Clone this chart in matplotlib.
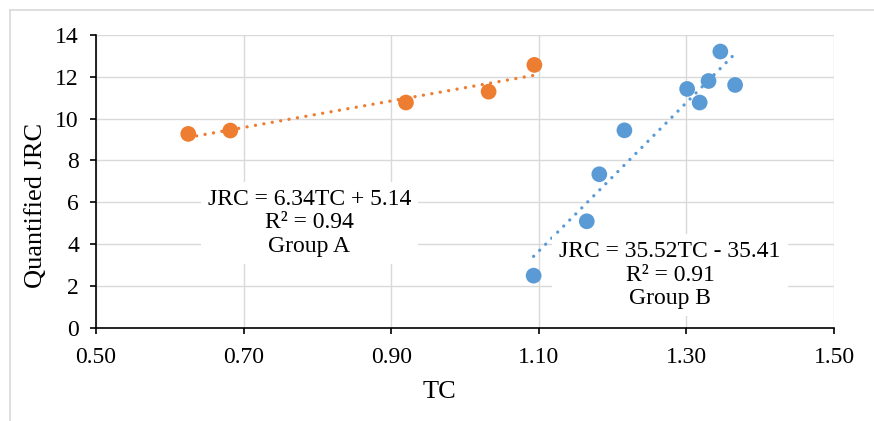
import numpy as np
import matplotlib
matplotlib.use("Agg")
import matplotlib.pyplot as plt
from matplotlib.lines import Line2D

# ---- data ----
tc_a = [0.625, 0.682, 0.920, 1.032, 1.094]
jrc_a = [9.27, 9.43, 10.77, 11.29, 12.57]

tc_b = [1.093, 1.165, 1.182, 1.216, 1.301, 1.318, 1.330, 1.346, 1.366]
jrc_b = [2.49, 5.09, 7.34, 9.44, 11.42, 10.77, 11.80, 13.21, 11.61]

# trendline equations shown on the chart
slope_a, intercept_a = 6.34, 5.14
slope_b, intercept_b = 35.52, -35.41

label_a = "JRC = 6.34TC + 5.14\nR² = 0.94\nGroup A"
label_b = "JRC = 35.52TC - 35.41\nR² = 0.91\nGroup B"

x_ticks = [0.50, 0.70, 0.90, 1.10, 1.30, 1.50]
y_ticks = [0, 2, 4, 6, 8, 10, 12, 14]

orange = "#ED7D31"
blue = "#5B9BD5"
grid_c = "#D9D9D9"

plt.rcParams["font.family"] = ["Liberation Serif", "DejaVu Serif"]

fig = plt.figure(figsize=(8.74, 4.21), dpi=100)
ax = fig.add_axes([0.10984, 0.22162, 0.84439, 0.69524])

# trendlines
dot = dict(lw=2.4, linestyle=(0, (0.01, 2.55)), dash_capstyle="round", zorder=4)
xa = np.array([min(tc_a), max(tc_a)])
xb = np.array([min(tc_b), max(tc_b)])
ax.plot(xa, slope_a * xa + intercept_a, color=orange, **dot)
ax.plot(xb, slope_b * xb + intercept_b, color=blue, **dot)

# points
ax.scatter(tc_a, jrc_a, s=128, color=orange, edgecolors="none", zorder=3)
ax.scatter(tc_b, jrc_b, s=128, color=blue, edgecolors="none", zorder=3)

# equation labels
box = dict(boxstyle="square,pad=0.3", fc="white", ec="none")
ax.text(0.789, 5.01, label_a, ha="center", va="center", fontsize=17,
        linespacing=1.15, bbox=box, zorder=5)
ax.text(1.278, 2.52, label_b, ha="center", va="center", fontsize=17,
        linespacing=1.15, bbox=box, zorder=5)

ax.set_xlim(0.5, 1.5)
ax.set_ylim(0, 14)
ax.set_xticks(x_ticks)
ax.set_xticklabels([f"{v:.2f}" for v in x_ticks])
ax.set_yticks(y_ticks)
ax.tick_params(labelsize=17, length=4.3, width=1.2, direction="out")
ax.tick_params(axis="x", pad=9.5)
ax.tick_params(axis="y", pad=8)
ax.grid(True, color=grid_c, lw=1.0, zorder=0)
ax.set_axisbelow(True)

for s in ["top", "right"]:
    ax.spines[s].set_visible(False)
for s in ["left", "bottom"]:
    ax.spines[s].set_linewidth(1.2)

ax.set_xlabel("TC", fontsize=19, va="center")
ax.xaxis.set_label_coords(0.466, -0.2197)
ax.set_ylabel("Quantified JRC", fontsize=19, va="center")
ax.yaxis.set_label_coords(-0.0813, 0.419)

# light outer frame
fig.add_artist(Line2D([0.0114, 1.0], [0.9774, 0.9774], transform=fig.transFigure,
                      color=grid_c, lw=1.2))
fig.add_artist(Line2D([0.0114, 0.0114], [0.0, 0.9774], transform=fig.transFigure,
                      color=grid_c, lw=1.2))

fig.savefig("out.png", dpi=100)
